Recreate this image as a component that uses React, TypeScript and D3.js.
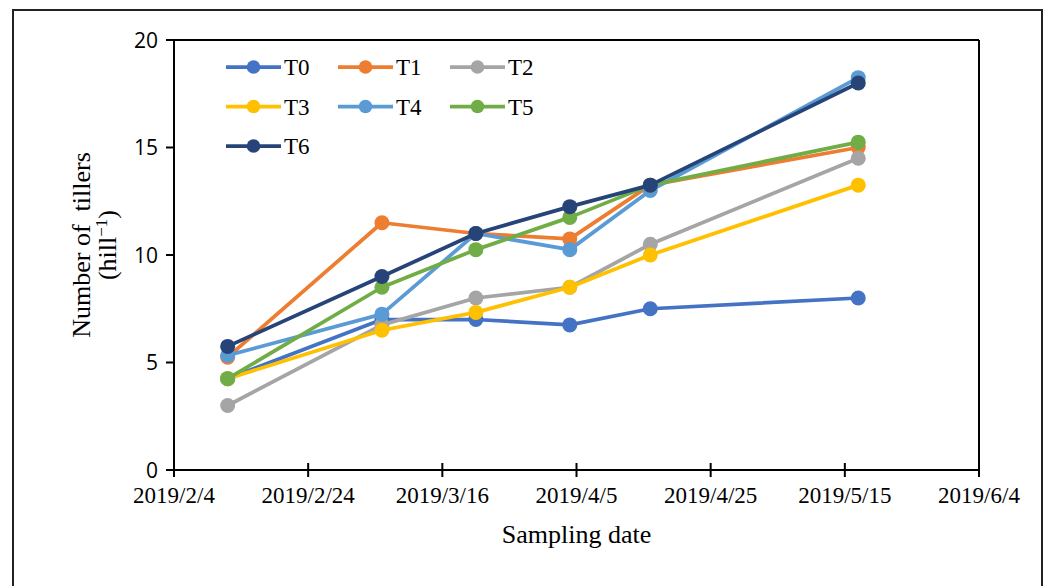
import React from "react";
import * as d3 from "d3";

const sampleDates = ["2019/2/12", "2019/3/7", "2019/3/21", "2019/4/4", "2019/4/16", "2019/5/17"];
const xTickDates = ["2019/2/4", "2019/2/24", "2019/3/16", "2019/4/5", "2019/4/25", "2019/5/15", "2019/6/4"];
const yTicks = [0, 5, 10, 15, 20];

const seriesNames = ["T0", "T1", "T2", "T3", "T4", "T5", "T6"];
const seriesColors = ["#4472C4", "#ED7D31", "#A5A5A5", "#FFC000", "#5B9BD5", "#70AD47", "#264478"];

const T0 = [4.25, 7.0, 7.0, 6.75, 7.5, 8.0];
const T1 = [5.25, 11.5, 11.0, 10.75, 13.25, 15.0];
const T2 = [3.0, 6.75, 8.0, 8.5, 10.5, 14.5];
const T3 = [4.25, 6.5, 7.33, 8.5, 10.0, 13.25];
const T4 = [5.33, 7.25, 11.0, 10.25, 13.0, 18.25];
const T5 = [4.25, 8.5, 10.25, 11.75, 13.25, 15.25];
const T6 = [5.75, 9.0, 11.0, 12.25, 13.25, 18.0];
const seriesValues = [T0, T1, T2, T3, T4, T5, T6];

const parse = d3.utcParse("%Y/%m/%d");
const fmt = d3.utcFormat("%Y/%-m/%-d");

export default function App() {
  const W = 1049, H = 586;
  const left = 174, right = 979, top = 40, bottom = 470;
  const x = d3.scaleUtc()
    .domain([parse(xTickDates[0])!, parse(xTickDates[xTickDates.length - 1])!])
    .range([left, right]);
  const y = d3.scaleLinear().domain([0, 20]).range([bottom, top]);
  const line = d3.line<[Date, number]>().x(d => x(d[0])).y(d => y(d[1]));
  const dates = sampleDates.map(s => parse(s)!);
  const serif = "'Liberation Serif', 'Times New Roman', serif";
  const sans = "'Open Sans', 'Liberation Sans', sans-serif";

  return (
    <svg width={W} height={H} style={{ position: "absolute", left: 0, top: 0, background: "#fff" }}>
      <rect x={0} y={0} width={W} height={H} fill="#fff" />
      <rect x={13} y={10} width={1029} height={H + 20} fill="none" stroke="#222" strokeWidth={2} />
      {/* plot frame */}
      <line x1={left} x2={right} y1={top} y2={top} stroke="#000" strokeWidth={2} />
      <line x1={right} x2={right} y1={top} y2={bottom} stroke="#000" strokeWidth={2} />
      <line x1={left} x2={left} y1={top} y2={bottom} stroke="#000" strokeWidth={2} />
      <line x1={left} x2={right} y1={bottom} y2={bottom} stroke="#000" strokeWidth={2} />
      {yTicks.map(t => (
        <g key={t}>
          <line x1={left - 8} x2={left} y1={y(t)} y2={y(t)} stroke="#000" strokeWidth={2} />
          <text x={left - 16} y={y(t)} dy="0.36em" textAnchor="end" fontFamily={sans} fontSize={21} fill="#000">{t}</text>
        </g>
      ))}
      {xTickDates.map(s => {
        const d = parse(s)!;
        return (
          <g key={s}>
            <line x1={x(d)} x2={x(d)} y1={bottom - 7} y2={bottom + 7} stroke="#000" strokeWidth={2} />
            <text x={x(d)} y={503} textAnchor="middle" fontFamily={serif} fontSize={23} fill="#000">{fmt(d)}</text>
          </g>
        );
      })}
      <text x={(left + right) / 2} y={543} textAnchor="middle" fontFamily={serif} fontSize={26} fill="#000">Sampling date</text>
      <g transform={`translate(0, 245) rotate(-90)`}>
        <text x={0} y={90} textAnchor="middle" fontFamily={serif} fontSize={26} fill="#000" style={{ whiteSpace: "pre" }}>{"Number of  tillers"}</text>
        <text x={0} y={116} textAnchor="middle" fontFamily={serif} fontSize={26} fill="#000">
          (hill<tspan dy={-9} fontSize={17}>−1</tspan><tspan dy={9}>)</tspan>
        </text>
      </g>
      {seriesValues.map((vals, i) => {
        const pts: [Date, number][] = vals.map((v, j) => [dates[j], v]);
        return (
          <g key={seriesNames[i]}>
            <path d={line(pts)!} fill="none" stroke={seriesColors[i]} strokeWidth={3.75} strokeLinejoin="round" />
            {pts.map((p, j) => (
              <circle key={j} cx={x(p[0])} cy={y(p[1])} r={7.5} fill={seriesColors[i]} />
            ))}
          </g>
        );
      })}
      {seriesNames.map((n, i) => {
        const col = i % 3, row = Math.floor(i / 3);
        const lx = 226 + col * 112, ly = 67 + row * 39.5;
        return (
          <g key={n}>
            <line x1={lx} x2={lx + 55} y1={ly} y2={ly} stroke={seriesColors[i]} strokeWidth={3.75} />
            <circle cx={lx + 27.5} cy={ly} r={6.8} fill={seriesColors[i]} />
            <text x={lx + 58} y={ly} dy="0.35em" fontFamily={serif} fontSize={23} fill="#000">{n}</text>
          </g>
        );
      })}
    </svg>
  );
}
